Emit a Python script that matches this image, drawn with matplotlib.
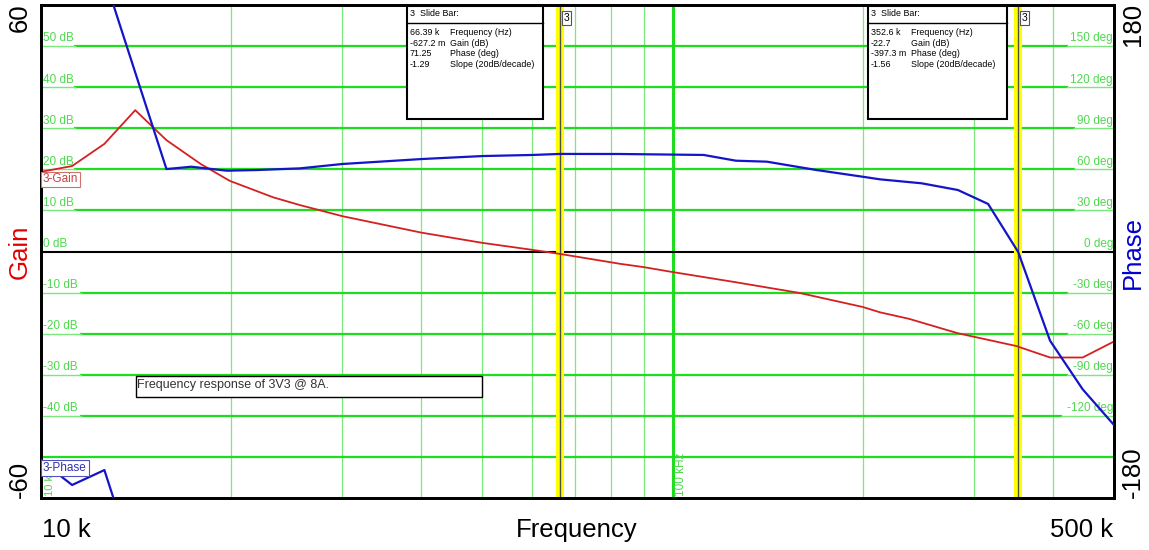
import numpy as np
import matplotlib
matplotlib.use('Agg')
import matplotlib.pyplot as plt
import matplotlib.patches as patches

plt.rcParams['font.family'] = ['Liberation Sans', 'DejaVu Sans']

# 3-Gain trace
gain_freq = [10.0e3, 11.2e3, 12.6e3, 14.1e3, 15.8e3, 17.9e3, 19.9e3, 23.3e3, 25.7e3,
             30.0e3, 40.0e3, 50.0e3, 60.0e3, 66.4e3, 82.6e3, 90.0e3, 100e3, 125e3,
             159e3, 200e3, 213e3, 237e3, 283e3, 350e3, 396e3, 446e3, 500e3]
gain_db = [19.4, 20.8, 26.2, 34.4, 27.1, 21.3, 17.2, 13.2, 11.3,
           8.6, 4.6, 2.1, 0.4, -0.6, -3.0, -3.8, -5.0, -7.4,
           -10.1, -13.5, -14.8, -16.4, -19.9, -23.0, -25.8, -25.8, -21.9]

# 3-Phase trace (wrapped, as displayed)
phase_freq = [10.0e3, 10.45e3, 11.2e3, 12.6e3, 15.8e3, 17.3e3, 19.7e3, 22.0e3, 25.7e3,
              30.0e3, 40.0e3, 50.0e3, 60.0e3, 66.4e3, 82.6e3, 112e3, 126e3, 141e3,
              169e3, 200e3, 213e3, 248e3, 283e3, 316e3, 352.6e3, 396e3, 446e3, 500e3]
phase_deg = [-152, -159.6, -170.5, -159.6, 60.2, 61.9, 59.0, 59.5, 60.7,
             63.9, 67.5, 69.7, 70.5, 71.25, 71.2, 70.5, 66.3, 65.6,
             59.5, 54.6, 52.7, 49.8, 44.9, 34.7, -0.4, -65.1, -100.6, -126.7]

# slide bars
bar_freq = [66.39e3, 352.6e3]
bar_values = [['66.39 k', '-627.2 m', '71.25', '-1.29'],
              ['352.6 k', '-22.7', '-397.3 m', '-1.56']]
bar_names = ['Frequency (Hz)', 'Gain (dB)', 'Phase (deg)', 'Slope (20dB/decade)']

gain_ticks = [50, 40, 30, 20, 10, 0, -10, -20, -30, -40, -50]
phase_ticks = [150, 120, 90, 60, 30, 0, -30, -60, -90, -120]
minor_freqs = [20e3, 30e3, 40e3, 50e3, 60e3, 70e3, 80e3, 90e3, 200e3, 300e3, 400e3]

GRID = '#1edc1e'
GRID_LT = '#7ae87a'
LBL = '#4fd84f'
RED = '#d42020'
BLUE = '#1414c8'

W, H = 1149, 550
L, R, T, B = 41, 1114, 5, 498


def axf(px, py):
    # pixel position -> axes fraction
    return (px - L) / (R - L), (B - py) / (B - T)


fig = plt.figure(figsize=(W / 100, H / 100), dpi=100)
ax = fig.add_axes([L / W, 1 - B / H, (R - L) / W, (B - T) / H])
ax.set_xscale('log')
ax.set_xlim(10e3, 500e3)
ax.set_ylim(-60, 60)
ax2 = ax.twinx()
ax2.set_ylim(-180, 180)
for a in (ax, ax2):
    a.set_xticks([])
    a.set_xticks([], minor=True)
    a.set_yticks([])
    a.set_yticks([], minor=True)
    for s in a.spines.values():
        s.set_linewidth(2)
        s.set_color('black')

# vertical grid
for f in minor_freqs:
    ax.axvline(f, color=GRID_LT, lw=0.9, zorder=1)
ax.axvline(100e3, color=GRID, lw=2.2, zorder=1)

# horizontal grid with inline labels
span = R - L
for g in gain_ticks:
    p = g * 3
    left_w = (6.4 * len('%d dB' % g) + 2) / span if g != -50 else 0
    right_w = (6.4 * len('%d deg' % p) + 2) / span if p in phase_ticks else 0
    if g == 0:
        ax.axhline(0, color='black', lw=1.5, zorder=2)
    else:
        ax.axhline(g, xmin=left_w, xmax=1 - right_w, color=GRID, lw=1.6, zorder=1)
        if left_w:
            ax.axhline(g, xmin=0, xmax=left_w, color=GRID_LT, lw=1, zorder=1)
        if right_w:
            ax.axhline(g, xmin=1 - right_w, xmax=1, color=GRID_LT, lw=1, zorder=1)
    if g != -50:
        ax.text(0.002, g + 0.4, '%d dB' % g, transform=ax.get_yaxis_transform(),
                ha='left', va='bottom', fontsize=8.5, color=LBL, zorder=3)
    if p in phase_ticks:
        ax2.text(0.999, p + 1.2, '%d deg' % p, transform=ax2.get_yaxis_transform(),
                 ha='right', va='bottom', fontsize=8.5, color=LBL, zorder=3)

ax.text(10e3 * 10 ** (4 / 631.6), -59.5, '10 kHz', rotation=90, ha='left', va='bottom',
        fontsize=8, color=LBL, zorder=3)
ax.text(100e3 * 10 ** (2 / 631.6), -59.5, '100 kHz', rotation=90, ha='left', va='bottom',
        fontsize=8.5, color=LBL, zorder=3)

# slide bars
for f in bar_freq:
    ax.axvline(f, color='#ffff00', lw=5.8, zorder=2)
    ax.axvline(f, color='#505050', lw=1, zorder=2.5)
    ax.annotate('3', xy=(f, 60), xycoords='data', xytext=(3, -8), textcoords='offset pixels',
                ha='left', va='top', fontsize=7.5, zorder=6,
                bbox=dict(boxstyle='square,pad=0.15', fc='white', ec='#555555', lw=0.8))

# curves
ax.plot(gain_freq, gain_db, color=RED, lw=1.3, zorder=4)
ph = np.rad2deg(np.unwrap(np.deg2rad(phase_deg)))
for k in (0, 360):
    ax2.plot(phase_freq, ph + k, color=BLUE, lw=1.6, zorder=4)

# slide bar info boxes
boxes = [(407, 543), (868, 1007)]
for (x0, x1), vals in zip(boxes, bar_values):
    fx0, fy0 = axf(x0, 119)
    fx1, fy1 = axf(x1, 6)
    ax2.add_patch(patches.Rectangle((fx0, fy0), fx1 - fx0, fy1 - fy0, transform=ax2.transAxes,
                                    fc='white', ec='black', lw=1.5, zorder=6))
    hx, hy = axf(x0, 23)
    ax2.plot([fx0, fx1], [hy, hy], transform=ax2.transAxes, color='black', lw=1, zorder=7)
    tx, ty = axf(x0 + 3, 14)
    ax2.text(tx, ty, '3  Slide Bar:', transform=ax2.transAxes, ha='left', va='center',
             fontsize=6.4, zorder=7)
    for i, (v, n) in enumerate(zip(vals, bar_names)):
        vx, vy = axf(x0 + 3, 32.5 + i * 10.6)
        nx, _ = axf(x0 + 43, 0)
        ax2.text(vx, vy, v, transform=ax2.transAxes, ha='left', va='center', fontsize=6.4, zorder=7)
        ax2.text(nx, vy, n, transform=ax2.transAxes, ha='left', va='center', fontsize=6.4, zorder=7)

# note box
nx0, ny0 = axf(136, 397)
nx1, ny1 = axf(482, 376)
ax2.add_patch(patches.Rectangle((nx0, ny0), nx1 - nx0, ny1 - ny0, transform=ax2.transAxes,
                                fc='white', ec='black', lw=1, zorder=6))
tx, ty = axf(137, 385)
ax2.text(tx, ty, 'Frequency response of 3V3 @ 8A.', transform=ax2.transAxes, ha='left',
         va='center', fontsize=9, color='#333333', zorder=7)

# trace labels
tx, ty = axf(43, 179.5)
ax2.text(tx, ty, '3-Gain', transform=ax2.transAxes, ha='left', va='center', fontsize=8.5,
         color='#c84040', zorder=7,
         bbox=dict(boxstyle='square,pad=0.15', fc='white', ec='#d07070', lw=0.8))
tx, ty = axf(43, 468)
ax2.text(tx, ty, '3-Phase', transform=ax2.transAxes, ha='left', va='center', fontsize=8.5,
         color='#3030b0', zorder=7,
         bbox=dict(boxstyle='square,pad=0.15', fc='white', ec='#5050c0', lw=0.8))

# outer labels
FS = 18.5
fig.text(20 / W, 1 - 3 / H, '60', rotation=90, ha='center', va='top', fontsize=FS)
fig.text(20 / W, 1 - 498 / H, '-60', rotation=90, ha='center', va='bottom', fontsize=FS)
fig.text(20 / W, 1 - 252 / H, 'Gain', rotation=90, ha='center', va='center', fontsize=FS, color='#e00000')
fig.text(1133 / W, 1 - 3 / H, '180', rotation=90, ha='center', va='top', fontsize=FS)
fig.text(1133 / W, 1 - 498 / H, '-180', rotation=90, ha='center', va='bottom', fontsize=FS)
fig.text(1133 / W, 1 - 252 / H, 'Phase', rotation=90, ha='center', va='center', fontsize=FS, color='#0000d0')
fig.text(42 / W, 1 - 530 / H, '10 k', ha='left', va='center', fontsize=FS)
fig.text(1113 / W, 1 - 530 / H, '500 k', ha='right', va='center', fontsize=FS)
fig.text(577 / W, 1 - 530 / H, 'Frequency', ha='center', va='center', fontsize=FS)

fig.savefig('out.png', dpi=100, facecolor='white')
